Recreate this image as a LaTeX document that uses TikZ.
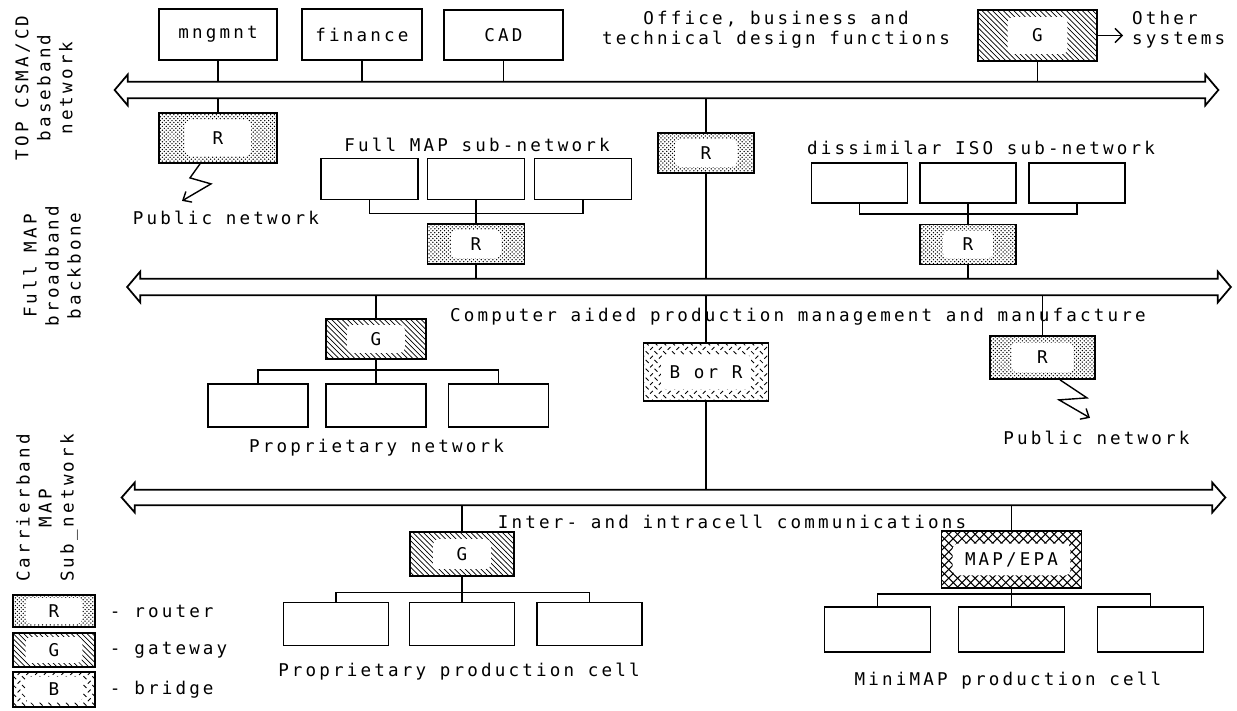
\documentclass[tikz,border=0pt]{standalone}
\usepackage{fontspec}
\newfontfamily\plotfont{DejaVu Sans Mono}[LetterSpace=18]
\usetikzlibrary{positioning,patterns,arrows.meta}

\pgfdeclarepatternformonly{bridge dashes}{\pgfqpoint{-1pt}{-1pt}}{\pgfqpoint{6pt}{6pt}}{\pgfqpoint{5pt}{5pt}}{
  \pgfsetlinewidth{0.5pt}
  \pgfpathmoveto{\pgfqpoint{0pt}{0pt}}\pgfpathlineto{\pgfqpoint{1.6pt}{1.6pt}}
  \pgfpathmoveto{\pgfqpoint{2.5pt}{4.2pt}}\pgfpathlineto{\pgfqpoint{4.2pt}{2.5pt}}
  \pgfusepath{stroke}}
\pgfdeclarepatternformonly{fine dots}{\pgfqpoint{-0.5pt}{-0.5pt}}{\pgfqpoint{2.5pt}{2.5pt}}{\pgfqpoint{2.2pt}{2.2pt}}{
  \pgfpathcircle{\pgfqpoint{0pt}{0pt}}{0.42pt}
  \pgfpathcircle{\pgfqpoint{1.1pt}{1.1pt}}{0.42pt}
  \pgfusepath{fill}}
\pgfdeclarepatternformonly{wide crosshatch}{\pgfqpoint{-1pt}{-1pt}}{\pgfqpoint{6pt}{6pt}}{\pgfqpoint{5pt}{5pt}}{
  \pgfsetlinewidth{0.6pt}
  \pgfpathmoveto{\pgfqpoint{0pt}{0pt}}\pgfpathlineto{\pgfqpoint{5pt}{5pt}}
  \pgfpathmoveto{\pgfqpoint{0pt}{5pt}}\pgfpathlineto{\pgfqpoint{5pt}{0pt}}
  \pgfusepath{stroke}}

\begin{document}
\begin{tikzpicture}[x=0.02cm, y=-0.02cm,
    every node/.style={font=\plotfont\fontsize{10}{11.5}\selectfont, inner sep=1pt},
    wh/.style 2 args={minimum width=#1*0.02cm, minimum height=#2*0.02cm},
    box/.style={draw, line width=1pt, inner sep=0pt},
    hole/.style 2 args={path picture={\fill[white, rounded corners=3pt]
        ([xshift=-#1*0.01cm, yshift=-#2*0.01cm]path picture bounding box.center) rectangle
        ([xshift=#1*0.01cm, yshift=#2*0.01cm]path picture bounding box.center);}},
    router/.style={box, pattern=fine dots},
    gateway/.style={box, pattern=north west lines},
    bridge/.style={box, pattern=bridge dashes},
    mapepa/.style={box, pattern=wide crosshatch},
    sidelabel/.style={rotate=90, align=center, font=\plotfont\fontsize{10}{12.5}\selectfont},
    shaft/.style={inner sep=0pt, minimum width=1077*0.02cm, minimum height=#1*0.02cm},
    busline/.style={line width=1pt},
    link/.style={line width=0.8pt},
    zap/.style={line width=0.8pt, -{Straight Barb[length=4pt, width=7pt]}}]

    \useasboundingbox (0,0) rectangle (1237,710);

    \node[sidelabel] (lab1) at (44,88) {TOP CSMA/CD\\baseband\\network};
    \node[sidelabel] (lab2) at (52,266) {Full MAP\\broadband\\backbone};
    \node[sidelabel] (lab3) at (47,508) {Carrierband\\MAP\\Sub\_network};

    \node[shaft=16] (bus1) at (666.5,90) {};
    \node[shaft=16] (bus2) at (679,287) {};
    \node[shaft=15] (bus3) at (673.5,497.5) {};
    \foreach \b in {bus1,bus2,bus3}
        \draw[busline] (\b.north west) -- (\b.north east) -- ([yshift=0.14cm]\b.north east)
            -- ([xshift=0.26cm]\b.east) -- ([yshift=-0.14cm]\b.south east) -- (\b.south east)
            -- (\b.south west) -- ([yshift=-0.14cm]\b.south west) -- ([xshift=-0.26cm]\b.west)
            -- ([yshift=0.14cm]\b.north west) -- cycle;

    \node[box, wh={118}{51}] (mng) at (218,34.5) {mngmnt};
    \node[box, wh={120}{51}] (fin) at (362,34.5) {finance};
    \node[box, wh={119}{50}] (cad) at (503.5,35) {CAD};
    \node[align=center] (office) at (776,30) {Office, business and\\technical design functions};
    \node[gateway, hole={60}{37}, wh={119}{51}] (gtop) at (1037.5,35.5) {G};
    \node[anchor=west, align=left] (othr) at (1130,30) {Other\\systems};

    \node[router, hole={66}{36}, wh={118}{50}] (r1) at (218,138) {R};
    \node (pub1) at (226,218) {Public network};
    \node[router, hole={62}{28}, wh={96}{40}] (rc) at (706,153) {R};

    \node (fmt) at (477,145) {Full MAP sub-network};
    \node[box, wh={97}{41}] (fm1) at (369.5,179) {};
    \node[box, wh={97}{41}] (fm2) at (476,179) {};
    \node[box, wh={97}{41}] (fm3) at (583,179) {};
    \node[router, hole={50}{28}, wh={97}{40}] (rfm) at (476,244) {R};

    \node (isot) at (981,148) {dissimilar ISO sub-network};
    \node[box, wh={96}{40}] (is1) at (859.5,183) {};
    \node[box, wh={96}{40}] (is2) at (968,183) {};
    \node[box, wh={96}{40}] (is3) at (1077,183) {};
    \node[router, hole={50}{28}, wh={96}{40}] (ris) at (968,244.5) {R};

    \node (camt) at (798,317) {Computer aided production management and manufacture};
    \node[gateway, hole={58}{28}, wh={100}{40}] (gpn) at (376,339) {G};
    \node[box, wh={100}{43}] (pn1) at (258,405.5) {};
    \node[box, wh={100}{43}] (pn2) at (376,405.5) {};
    \node[box, wh={100}{43}] (pn3) at (498.5,405.5) {};
    \node (pnt) at (376.5,448) {Proprietary network};
    \node[bridge, hole={90}{35}, wh={125}{58}] (bor) at (706,372) {B or R};
    \node[router, hole={62}{30}, wh={105}{43}] (rpub) at (1042.5,357.5) {R};
    \node (pub2) at (1096.5,438) {Public network};

    \node (icct) at (732,522) {Inter- and intracell communications};
    \node[gateway, hole={58}{30}, wh={104}{44}] (gpc) at (462,554) {G};
    \node[box, wh={105}{43}] (pc1) at (336,624) {};
    \node[box, wh={105}{43}] (pc2) at (462,624) {};
    \node[box, wh={105}{43}] (pc3) at (589.5,624) {};
    \node (pct) at (459,672) {Proprietary production cell};
    \node[mapepa, hole={118}{32}, wh={140}{57}] (mep) at (1011.5,559.5) {MAP/EPA};
    \node[box, wh={106}{45}] (mm1) at (877.5,629.5) {};
    \node[box, wh={106}{45}] (mm2) at (1011.5,629.5) {};
    \node[box, wh={106}{45}] (mm3) at (1150.5,629.5) {};
    \node (mmt) at (1008,681) {MiniMAP production cell};

    \node[router, hole={57}{26}, wh={82}{32}] (lr) at (54,611) {R};
    \node[gateway, hole={57}{26}, wh={82}{34}] (lg) at (54,650) {G};
    \node[bridge, hole={57}{26}, wh={82}{35}] (lb) at (54,689.5) {B};
    \node[right=0.24cm of lr] (lrt) {- router};
    \node[right=0.24cm of lg] (lgt) {- gateway};
    \node[right=0.24cm of lb] (lbt) {- bridge};

    \draw[link] (mng) -- (mng |- bus1.north);
    \draw[link] (fin) -- (fin |- bus1.north);
    \draw[link] (cad) -- (cad |- bus1.north);
    \draw[link] (gtop) -- (gtop |- bus1.north);
    \draw[link, shorten >=0.14cm, -{Straight Barb[length=4pt, width=8pt]}] (gtop) -- (gtop -| othr.west);
    \draw[link] (r1) -- (r1 |- bus1.south);
    \draw[zap] ([xshift=-0.36cm]r1.south) -- ++(-10,14) -- ++(21,6) -- ++(-29,17);
    \draw[link] (rc) -- (rc |- bus1.south);
    \draw[link] (rc) -- (rc |- bus2.north);
    \draw[link] (fm1.south) -- ++(0,13) -| (fm3.south);
    \draw[link] (fm2) -- (rfm);
    \draw[link] (rfm) -- (rfm |- bus2.north);
    \draw[link] (is1.south) -- ++(0,10) -| (is3.south);
    \draw[link] (is2) -- (ris);
    \draw[link] (ris) -- (ris |- bus2.north);
    \draw[link] (gpn) -- (gpn |- bus2.south);
    \draw[link] (pn1.north) -- ++(0,-13) -| (pn3.north);
    \draw[link] (gpn) -- (pn2);
    \draw[link] (bor) -- (bor |- bus2.south);
    \draw[link] (bor) -- (bor |- bus3.north);
    \draw[link] (rpub) -- (rpub |- bus2.south);
    \draw[zap] ([xshift=0.35cm]rpub.south) -- ++(27,18) -- ++(-28,2) -- ++(31,18);
    \draw[link] (gpc) -- (gpc |- bus3.south);
    \draw[link] (pc1.north) -- ++(0,-9) -| (pc3.north);
    \draw[link] (gpc) -- (pc2);
    \draw[link] (mep) -- (mep |- bus3.south);
    \draw[link] (mm1.north) -- ++(0,-12) -| (mm3.north);
    \draw[link] (mep) -- (mm2);
\end{tikzpicture}
\end{document}
